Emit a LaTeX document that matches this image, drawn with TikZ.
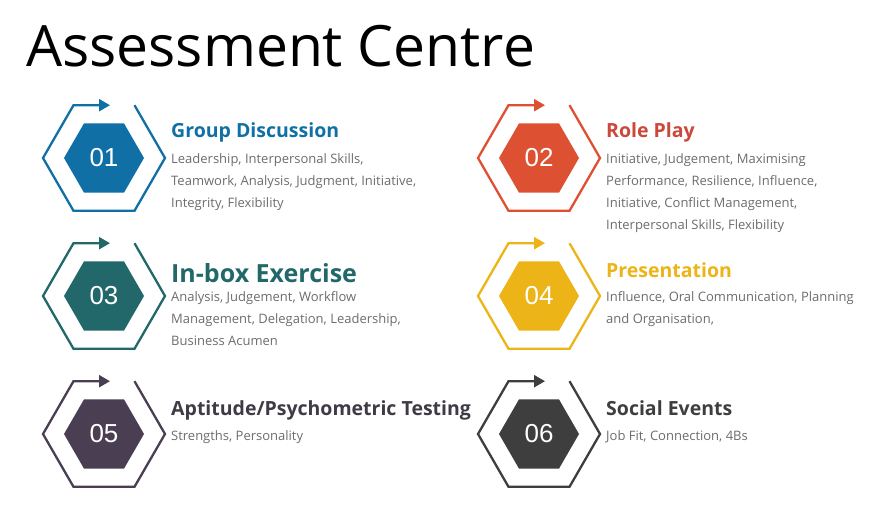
\documentclass[tikz,border=0pt]{standalone}
\usepackage{fontspec}
\setmainfont{Open Sans}
\newfontfamily\numfont{Liberation Sans}
\usetikzlibrary{arrows.meta,shapes.geometric}
\definecolor{hexblue}{RGB}{16,112,166}
\definecolor{hexred}{RGB}{222,80,50}
\definecolor{titlered}{RGB}{204,72,58}
\definecolor{hexteal}{RGB}{34,104,106}
\definecolor{hexyellow}{RGB}{236,180,22}
\definecolor{hexpurple}{RGB}{74,62,82}
\definecolor{titlepurple}{RGB}{64,58,70}
\definecolor{hexdark}{RGB}{62,62,62}
\definecolor{skillgray}{RGB}{108,108,108}
\tikzset{
  core/.style={regular polygon, regular polygon sides=6, minimum size=80pt,
    inner sep=0pt, fill=#1, text=white, font=\numfont\fontsize{26}{26}\selectfont},
  ring/.style={draw=#1, line width=2.3pt, -{Triangle[length=11pt,width=12pt]}},
  headline/.style={anchor=base west, inner sep=0pt, text=#1,
    font=\bfseries\fontsize{19.5}{19.5}\selectfont},
  skills/.style={anchor=north west, align=left, inner sep=0pt, text=skillgray,
    font=\fontsize{13}{22}\selectfont},
}
% open ring with arrow round a core hexagon
\newcommand\hexring[2]{%
  \draw[ring=#2, shift={(#1)}] (30.5,-52.8) -- (61,0) -- (30.5,52.8)
    -- (-30.5,52.8) -- (-61,0) -- (-30.5,-52.8) -- (6,-52.8);
}

\begin{document}
\begin{tikzpicture}[x=1pt, y=-1pt]
  \useasboundingbox (0,0) rectangle (880,524);
  \node[anchor=base west, inner sep=0pt, font=\fontsize{57}{57}\selectfont] (title) at (26,67) {Assessment Centre};

  % row 1
  \node[core=hexblue] (h01) at (104,158) {01};
  \hexring{h01}{hexblue}
  \node[headline=hexblue] (t01) at (171,138) {Group Discussion};
  \node[skills] (s01) at (171,153) {Leadership, Interpersonal Skills,\\Teamwork, Analysis, Judgment, Initiative,\\Integrity, Flexibility};

  \node[core=hexred] (h02) at (539,158) {02};
  \hexring{h02}{hexred}
  \node[headline=titlered] (t02) at (606,138) {Role Play};
  \node[skills] (s02) at (606,153) {Initiative, Judgement, Maximising\\Performance, Resilience, Influence,\\Initiative, Conflict Management,\\Interpersonal Skills, Flexibility};

  % row 2
  \node[core=hexteal] (h03) at (104,296) {03};
  \hexring{h03}{hexteal}
  \node[headline=hexteal, font=\bfseries\fontsize{25}{25}\selectfont] (t03) at (171,282) {In-box Exercise};
  \node[skills] (s03) at (171,291) {Analysis, Judgement, Workflow\\Management, Delegation, Leadership,\\Business Acumen};

  \node[core=hexyellow] (h04) at (539,296) {04};
  \hexring{h04}{hexyellow}
  \node[headline=hexyellow] (t04) at (606,277) {Presentation};
  \node[skills] (s04) at (606,291) {Influence, Oral Communication, Planning\\and Organisation,};

  % row 3
  \node[core=hexpurple] (h05) at (104,434) {05};
  \hexring{h05}{hexpurple}
  \node[headline=titlepurple] (t05) at (171,415) {Aptitude/Psychometric Testing};
  \node[skills] (s05) at (171,430) {Strengths, Personality};

  \node[core=hexdark] (h06) at (539,434) {06};
  \hexring{h06}{hexdark}
  \node[headline=hexdark] (t06) at (606,415) {Social Events};
  \node[skills] (s06) at (606,430) {Job Fit, Connection, 4Bs};
\end{tikzpicture}
\end{document}
